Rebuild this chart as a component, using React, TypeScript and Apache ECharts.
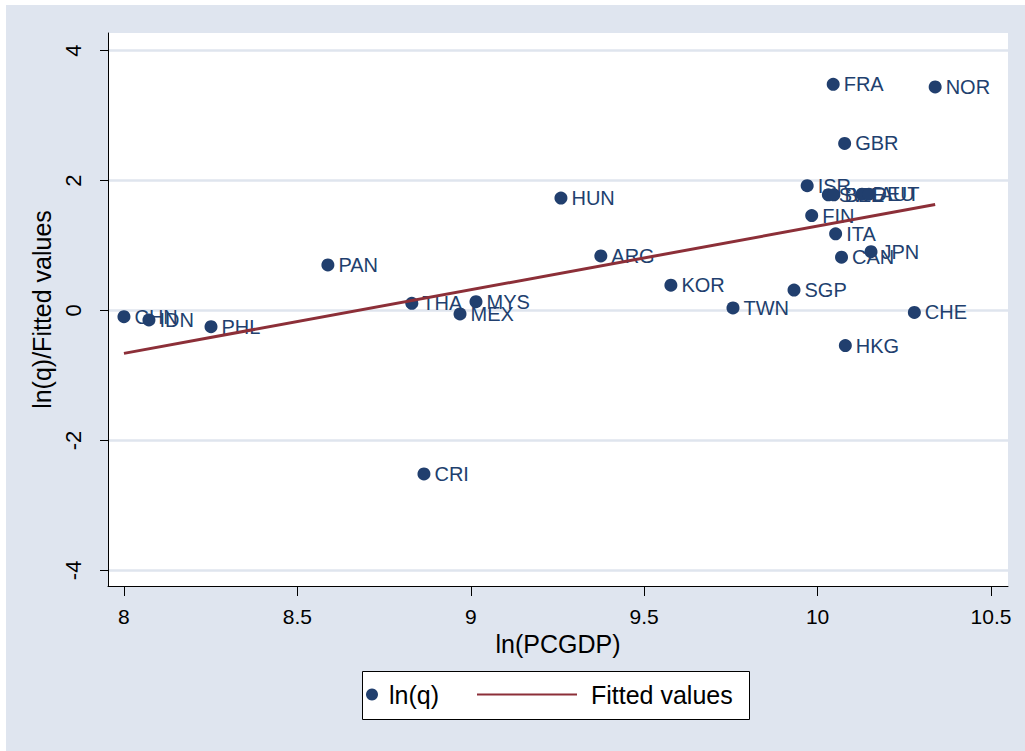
import React, { useEffect, useRef } from "react";
import * as echarts from "echarts";

const countries = ["CHN","IDN","PHL","PAN","THA","CRI","MEX","MYS","HUN","ARG","KOR","TWN","SGP","ISR","FIN","SWE","BEL","DEU","AUT","ITA","CAN","JPN","FRA","NOR","GBR","CHE","HKG"];
const lnPCGDP = [8.0,8.072,8.251,8.588,8.83,8.865,8.969,9.015,9.26,9.375,9.577,9.756,9.932,9.970,9.983,10.031,10.047,10.128,10.148,10.052,10.069,10.154,10.045,10.339,10.078,10.279,10.08];
const lnQ = [-0.095,-0.146,-0.25,0.70,0.11,-2.515,-0.054,0.135,1.73,0.84,0.39,0.04,0.315,1.92,1.46,1.78,1.78,1.79,1.79,1.18,0.82,0.905,3.48,3.44,2.57,-0.03,-0.54];
const fittedX = [8.0, 10.339];
const fittedY = [-0.66, 1.63];
const xTicks = [8, 8.5, 9, 9.5, 10, 10.5];
const yTicks = [-4, -2, 0, 2, 4];

const FONT = "'Liberation Sans', Arial, sans-serif";
const NAVY = "#213f6e";
const MAROON = "#8c2f38";
const BG = "#dfe5ef";

export default function App() {
  const ref = useRef<HTMLDivElement>(null);
  useEffect(() => {
    const chart = echarts.init(ref.current!, null, { renderer: "svg" });
    const scatterData = countries.map((c, i) => ({ name: c, value: [lnPCGDP[i], lnQ[i]] }));
    chart.setOption({
      animation: false,
      backgroundColor: BG,
      textStyle: { fontFamily: FONT },
      grid: { left: 102, top: 28, width: 900, height: 553, show: true, backgroundColor: "#ffffff", borderWidth: 0 },
      xAxis: {
        type: "value",
        min: 7.954,
        max: 10.549,
        name: "ln(PCGDP)",
        nameLocation: "middle",
        nameGap: 42,
        nameTextStyle: { fontSize: 25, color: "#000", fontFamily: FONT },
        axisLine: { show: true, onZero: false, lineStyle: { color: "#000", width: 1 } },
        axisTick: { show: true, length: 10, lineStyle: { color: "#000" }, customValues: xTicks },
        axisLabel: { fontSize: 21, color: "#000", margin: 20, customValues: xTicks, formatter: (v: number) => String(v) },
        splitLine: { show: false },
      },
      yAxis: {
        type: "value",
        min: -4.24,
        max: 4.27,
        name: "ln(q)/Fitted values",
        nameLocation: "middle",
        nameGap: 46,
        nameTextStyle: { fontSize: 25, color: "#000", fontFamily: FONT },
        axisLine: { show: true, onZero: false, lineStyle: { color: "#000", width: 1 } },
        axisTick: { show: true, length: 8, lineStyle: { color: "#000" }, customValues: yTicks },
        axisLabel: { fontSize: 22, color: "#000", margin: 24, rotate: 90, customValues: yTicks, formatter: (v: number) => String(v) },
        splitLine: { show: true, lineStyle: { color: "#dfe5ee", width: 2.5 } },
      },
      legend: [
        {
          data: ["ln(q)"],
          left: 360,
          top: 677,
          padding: 0,
          itemWidth: 24,
          itemHeight: 12,
          textStyle: { fontSize: 25, color: "#000", fontFamily: FONT },
        },
        {
          data: [{ name: "Fitted values", icon: "rect" }],
          left: 471,
          top: 677,
          padding: 0,
          itemWidth: 100,
          itemHeight: 2,
          textStyle: { fontSize: 25, color: "#000", fontFamily: FONT, padding: [0, 0, 0, 9] },
        },
      ],
      graphic: [
        {
          type: "rect",
          left: 356,
          top: 666,
          z: -1,
          shape: { width: 387, height: 48 },
          style: { fill: "#fff", stroke: "#000", lineWidth: 1 },
        },
      ],
      series: [
        {
          name: "ln(q)",
          type: "scatter",
          data: scatterData,
          symbol: "circle",
          symbolSize: 13,
          itemStyle: { color: NAVY, opacity: 1 },
          label: {
            show: true,
            position: "right",
            distance: 4,
            formatter: (p: any) => p.name,
            fontSize: 20,
            color: NAVY,
            fontFamily: FONT,
          },
          z: 2,
        },
        {
          name: "Fitted values",
          type: "line",
          data: fittedX.map((x, i) => [x, fittedY[i]]),
          symbol: "none",
          showSymbol: false,
          lineStyle: { color: MAROON, width: 3 },
          itemStyle: { color: MAROON },
          z: 3,
        },
      ],
    });
    return () => chart.dispose();
  }, []);
  return (
    <div style={{ position: "fixed", left: 0, top: 0, width: 1025, height: 751, background: "#fff" }}>
      <div ref={ref} style={{ position: "absolute", left: 6, top: 5, width: 1019, height: 746 }} />
    </div>
  );
}
